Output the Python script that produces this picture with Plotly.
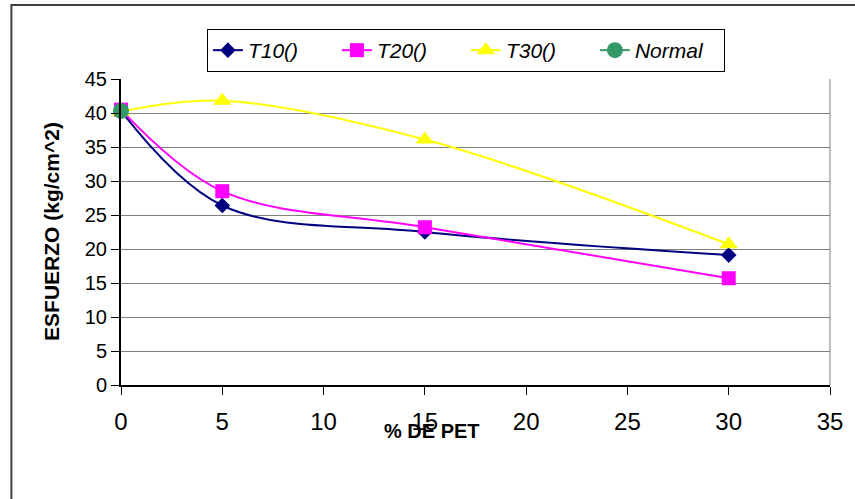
import plotly.graph_objects as go

# ---- data ----
pet = [0, 5, 15, 30]
t10 = [40.3, 26.4, 22.5, 19.1]
t20 = [40.5, 28.5, 23.2, 15.7]
t30 = [40.2, 41.8, 36.1, 20.7]
normal_x = [0]
normal_y = [40.3]

x_ticks = [0, 5, 10, 15, 20, 25, 30, 35]
y_ticks = [0, 5, 10, 15, 20, 25, 30, 35, 40, 45]

FONT = "Arial, Liberation Sans, sans-serif"

W, H = 855, 499
L, R, T, B = 121, 16, 79, 114
pw = W - L - R
ph = H - T - B


def px_x(p):
    return (p - L) / pw


def px_y(p):
    return (H - B - p) / ph


fig = go.Figure()

series = [
    ("T10()", pet, t10, "#000080", "diamond", 12),
    ("T20()", pet, t20, "#FF00FF", "square", 14),
    ("T30()", pet, t30, "#FFFF00", "triangle-up", 16),
    ("Normal", normal_x, normal_y, "#339966", "circle", 16),
]

for name, xs, ys, col, sym, sz in series:
    fig.add_trace(go.Scatter(
        x=xs, y=ys, name=name, mode="lines+markers",
        line=dict(color=col, width=2, shape="spline", smoothing=1.0),
        marker=dict(symbol=sym, size=sz, color=col, line=dict(width=0)),
        cliponaxis=False,
    ))

fig.update_layout(
    width=W, height=H,
    margin=dict(l=L, r=R, t=T, b=B, pad=0),
    paper_bgcolor="white", plot_bgcolor="white",
    font=dict(family=FONT, color="black"),
    showlegend=True,
    legend=dict(
        orientation="h",
        x=px_x(208), xanchor="left",
        y=px_y(29), yanchor="top",
        bgcolor="white", bordercolor="black", borderwidth=1,
        font=dict(family=FONT, size=21, color="black", style="italic"),
        entrywidth=84, entrywidthmode="pixels",
        itemclick=False, itemdoubleclick=False,
    ),
    xaxis=dict(
        range=[0, 35], tickvals=x_ticks, ticktext=[str(v) for v in x_ticks],
        showgrid=False, zeroline=False,
        showline=True, linecolor="black", linewidth=2,
        ticks="outside", ticklen=8, tickcolor="black", tickwidth=1,
        tickfont=dict(family=FONT, size=24, color="black"),
        ticklabelstandoff=6,
    ),
    yaxis=dict(
        range=[0, 45], tickvals=y_ticks, ticktext=[str(v) for v in y_ticks],
        showgrid=True, gridcolor="#808080", gridwidth=1,
        zeroline=False,
        showline=True, linecolor="black", linewidth=2,
        ticks="outside", ticklen=8, tickcolor="black", tickwidth=1,
        tickfont=dict(family=FONT, size=20, color="black"),
    ),
    annotations=[
        dict(text="<b>ESFUERZO (kg/cm^2)</b>", xref="paper", yref="paper",
             x=px_x(50), y=px_y(231), xanchor="center", yanchor="middle",
             textangle=-90, showarrow=False,
             font=dict(family=FONT, size=21, color="black")),
        dict(text="<b>% DE PET</b>", xref="paper", yref="paper",
             x=px_x(436), y=px_y(431), xanchor="center", yanchor="middle",
             showarrow=False,
             font=dict(family=FONT, size=20, color="black")),
    ],
    shapes=[
        # plot-area right border
        dict(type="line", xref="paper", yref="paper", x0=1, x1=1, y0=0, y1=1,
             line=dict(color="#808080", width=1), layer="below"),
        # outer chart border (extends past right/bottom edges)
        dict(type="rect", xref="paper", yref="paper",
             x0=px_x(10), x1=px_x(870), y0=px_y(515), y1=px_y(5),
             line=dict(color="#404040", width=2), fillcolor="rgba(0,0,0,0)",
             layer="below"),
    ],
)

fig.write_html("out.html")
